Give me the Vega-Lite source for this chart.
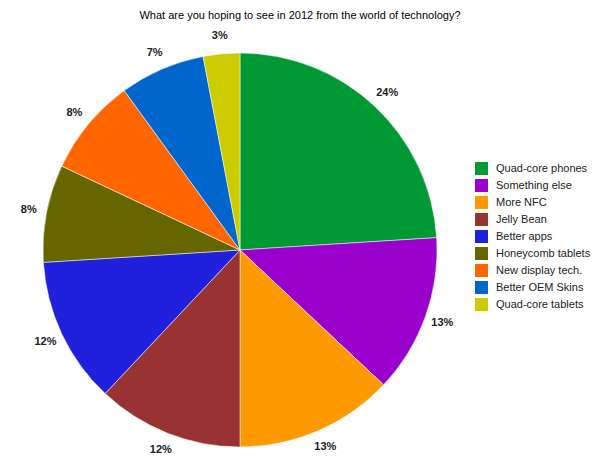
{
  "$schema": "https://vega.github.io/schema/vega-lite/v6.json",
  "width": 480,
  "height": 420,
  "autosize": "none",
  "padding": {"left": 0, "top": 40, "right": 120, "bottom": 0},
  "background": "white",
  "title": {
    "text": "What are you hoping to see in 2012 from the world of technology?",
    "font": "Liberation Sans",
    "fontSize": 11,
    "fontWeight": "normal",
    "color": "#000000",
    "anchor": "middle",
    "baseline": "alphabetic",
    "offset": 0,
    "dx": 60
  },
  "data": {
    "values": [
      {"i": 1, "label": "Quad-core phones", "share": 0.24},
      {"i": 2, "label": "Something else", "share": 0.13},
      {"i": 3, "label": "More NFC", "share": 0.13},
      {"i": 4, "label": "Jelly Bean", "share": 0.12},
      {"i": 5, "label": "Better apps", "share": 0.12},
      {"i": 6, "label": "Honeycomb tablets", "share": 0.08},
      {"i": 7, "label": "New display tech.", "share": 0.08},
      {"i": 8, "label": "Better OEM Skins", "share": 0.07},
      {"i": 9, "label": "Quad-core tablets", "share": 0.03}
    ]
  },
  "encoding": {
    "theta": {"field": "share", "type": "quantitative", "stack": true},
    "order": {"field": "i", "type": "quantitative"},
    "color": {
      "field": "label",
      "type": "nominal",
      "scale": {
        "domain": ["Quad-core phones", "Something else", "More NFC", "Jelly Bean", "Better apps", "Honeycomb tablets", "New display tech.", "Better OEM Skins", "Quad-core tablets"],
        "range": ["#009933", "#9900cc", "#ff9900", "#993333", "#2020dd", "#666600", "#ff6600", "#0066cc", "#cccc00"]
      },
      "legend": {
        "orient": "none",
        "legendX": 475,
        "legendY": 122,
        "title": null,
        "symbolType": "square",
        "symbolSize": 169,
        "symbolStrokeWidth": 0,
        "labelFont": "Liberation Sans",
        "labelFontSize": 11,
        "labelColor": "#222222",
        "labelOffset": 8,
        "rowPadding": 4,
        "padding": 0,
        "labelLimit": 200
      }
    }
  },
  "layer": [
    {
      "mark": {"type": "arc", "radius": 197, "stroke": "#ffffff", "strokeWidth": 0.5}
    },
    {
      "mark": {"type": "text", "radius": 215, "font": "Liberation Sans", "fontSize": 11, "fontWeight": "bold", "align": "center", "baseline": "middle"},
      "encoding": {
        "text": {"field": "share", "type": "quantitative", "format": ".0%"},
        "color": {"value": "#222222"}
      }
    }
  ]
}
